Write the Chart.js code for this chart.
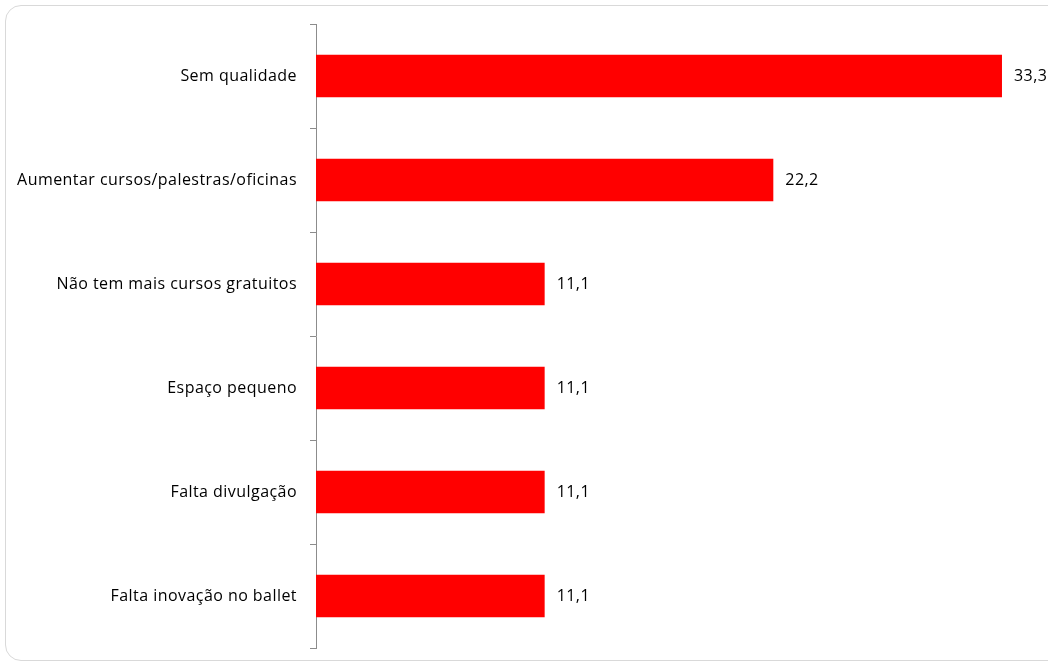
<!DOCTYPE html>
<html>
<head>
<meta charset="utf-8">
<script src="https://cdn.jsdelivr.net/npm/chart.js@4"></script>
<style>
  html, body { margin: 0; padding: 0; background: #fff; overflow: hidden; }
  #frame { position: absolute; left: 5px; top: 5px; width: 1060px; height: 656px;
           border: 1.5px solid #d9d9d9; border-radius: 16px; box-sizing: border-box; }
  #wrap { position: absolute; left: 0; top: 0; width: 1048px; height: 666px; }
</style>
</head>
<body>
<div id="frame"></div>
<div id="wrap"><canvas id="c" width="1048" height="666"></canvas></div>
<script>
const categories = [
  "Sem qualidade",
  "Aumentar cursos/palestras/oficinas",
  "Não tem mais cursos gratuitos",
  "Espaço pequeno",
  "Falta divulgação",
  "Falta inovação no ballet"
];
const values = [33.3, 22.2, 11.1, 11.1, 11.1, 11.1];

const FONT = "'Open Sans', Lato, sans-serif";
const FSIZE = 16;
const SPACING = '0.45px';

const spacingPlugin = {
  id: 'spacing',
  beforeDraw(chart) { chart.ctx.letterSpacing = SPACING; }
};

const valueLabels = {
  id: 'valueLabels',
  afterDatasetsDraw(chart) {
    const ctx = chart.ctx;
    const meta = chart.getDatasetMeta(0);
    ctx.save();
    ctx.letterSpacing = SPACING;
    ctx.font = FSIZE + "px " + FONT;
    ctx.fillStyle = "#000";
    ctx.textAlign = "left";
    ctx.textBaseline = "middle";
    meta.data.forEach((bar, i) => {
      const txt = values[i].toFixed(1).replace('.', ',');
      ctx.fillText(txt, bar.x + 12, bar.y);
    });
    ctx.restore();
  }
};

new Chart(document.getElementById('c'), {
  type: 'bar',
  data: {
    labels: categories,
    datasets: [{
      data: values,
      backgroundColor: '#ff0000',
      borderWidth: 0,
      categoryPercentage: 1,
      barPercentage: 0.41
    }]
  },
  options: {
    indexAxis: 'y',
    responsive: false,
    animation: false,
    devicePixelRatio: 1,
    layout: { padding: { top: 24, bottom: 18, right: 11, left: 0 } },
    plugins: { legend: { display: false }, tooltip: { enabled: false } },
    scales: {
      x: {
        display: false,
        min: 0,
        max: 35
      },
      y: {
        offset: true,
        afterFit(scale) { scale.width = 316; scale.paddingTop = 0; scale.paddingBottom = 0; },
        border: { display: true, color: '#8c8c8c', width: 1 },
        grid: {
          offset: true,
          drawOnChartArea: false,
          drawTicks: true,
          tickLength: 6,
          color: '#8c8c8c'
        },
        ticks: {
          color: '#000',
          padding: 13,
          font: { family: FONT, size: FSIZE }
        }
      }
    }
  },
  plugins: [spacingPlugin, valueLabels]
});
</script>
</body>
</html>
